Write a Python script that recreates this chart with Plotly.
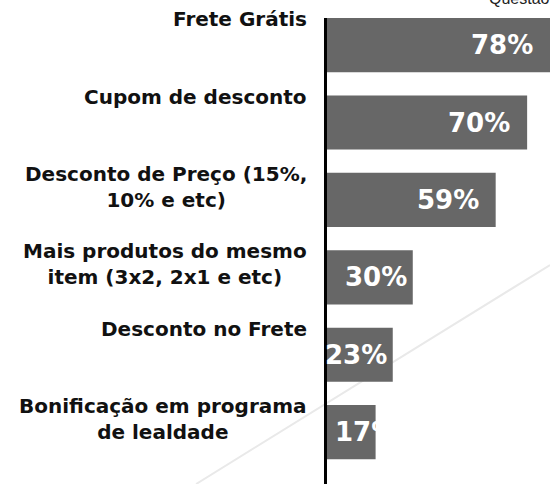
import plotly.graph_objects as go

categories = [
    "Frete Grátis",
    "Cupom de desconto",
    "Desconto de Preço (15%,<br>10% e etc)",
    "Mais produtos do mesmo<br>item (3x2, 2x1 e etc)",
    "Desconto no Frete",
    "Bonificação em programa<br>de lealdade",
]
values = [78, 70, 59, 30, 23, 17]
header_text = "Questão"

BAR = "#676767"
FONT = "DejaVu Sans"

fig = go.Figure(
    go.Bar(
        x=values,
        y=categories,
        orientation="h",
        marker=dict(color=BAR, line=dict(width=0)),
        width=0.70,
        hoverinfo="skip",
    )
)

annotations = []
for c in categories:
    annotations.append(
        dict(
            x=0, xref="paper", xanchor="right", xshift=-18,
            y=c, yref="y", yanchor="top", yshift=40,
            text=c, showarrow=False, align="center",
            font=dict(family=FONT, size=20, color="#111111", weight=700),
        )
    )

# value labels (white, inside bar end; too-short bars start at the axis)
for c, v in zip(categories, values):
    if v >= 20:
        pad = 15 if v >= 50 else 4
        ann = dict(x=v, xanchor="right", xshift=-pad)
    else:
        ann = dict(x=0, xanchor="left", xshift=6)
    ann.update(
        xref="x", y=c, yref="y", yanchor="middle", yshift=0,
        text=f"{v}%", showarrow=False,
        font=dict(family=FONT, size=26, color="white", weight=700),
    )
    annotations.append(ann)

annotations.append(
    dict(
        x=(487 - 327) / 223, xref="paper", xanchor="left",
        y=1.0193, yref="paper", yanchor="bottom",
        text=header_text, showarrow=False,
        font=dict(family="Liberation Sans", size=16, color="#222222"),
    )
)

fig.update_layout(
    width=550, height=484,
    margin=dict(l=327, r=0, t=18, b=0),
    paper_bgcolor="white", plot_bgcolor="rgba(0,0,0,0)",
    showlegend=False,
    xaxis=dict(range=[0, 78], visible=False, fixedrange=True),
    yaxis=dict(
        categoryorder="array", categoryarray=categories,
        range=[5.67, -0.35], fixedrange=True,
        showticklabels=False, ticks="",
        showgrid=False, zeroline=False,
        showline=True, linecolor="black", linewidth=3,
    ),
    annotations=annotations,
    shapes=[
        dict(
            type="line", xref="paper", yref="paper",
            x0=-0.587, y0=0, x1=1, y1=0.47,
            line=dict(color="#e9e9e9", width=2), layer="below",
        )
    ],
)

fig.write_html(
    "out.html",
    config={"displayModeBar": False},
    post_script="document.body.style.margin='0';",
)
